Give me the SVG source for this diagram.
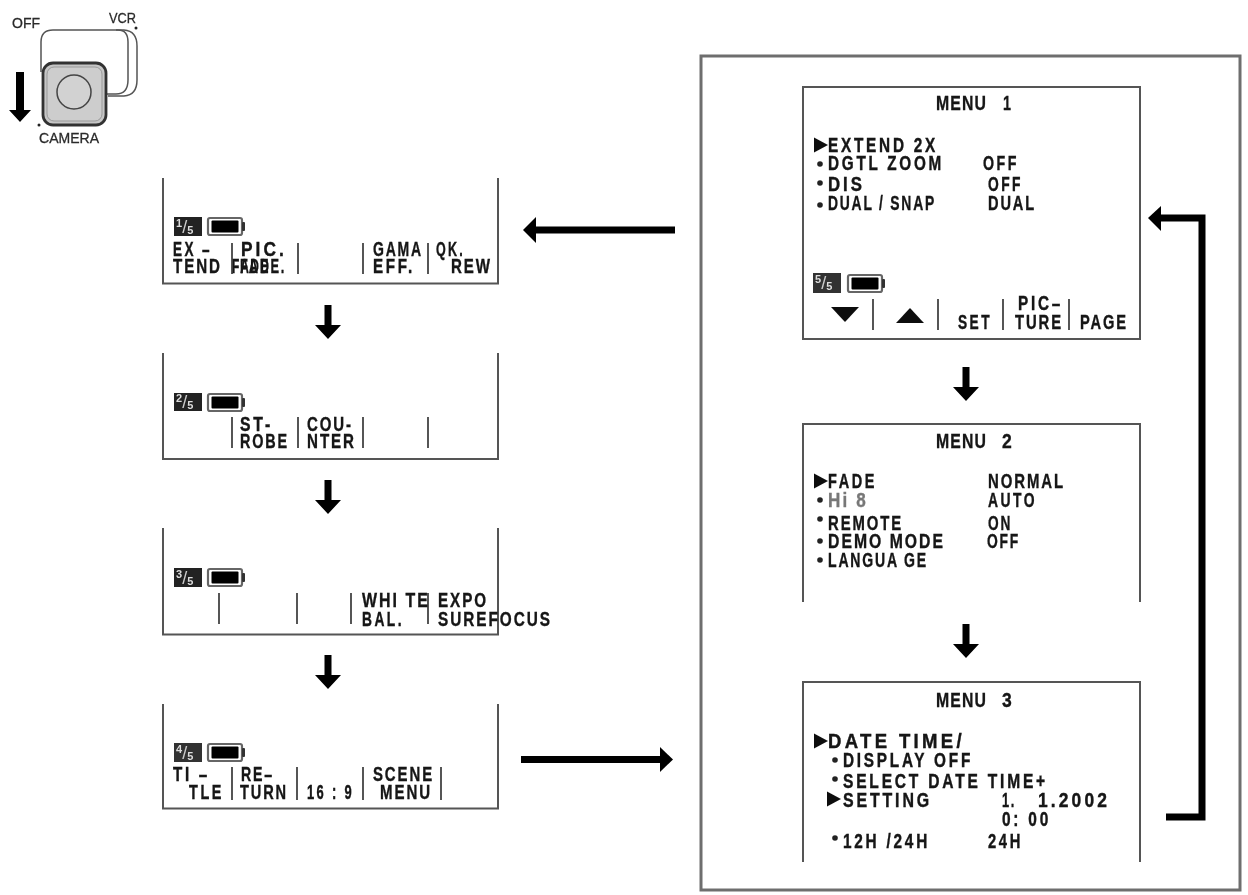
<svg xmlns="http://www.w3.org/2000/svg" width="1248" height="895" viewBox="0 0 1248 895">
<style>
text{font-family:"Liberation Sans",Arial,sans-serif;font-weight:bold;fill:#141414}
.t{font-size:19.500px;letter-spacing:2.500px;stroke:#141414;stroke-width:.35px}
.w{font-size:19.500px;letter-spacing:3.500px;stroke:#141414;stroke-width:.4px}
.m{font-size:21px;letter-spacing:1.500px;stroke:#141414;stroke-width:.35px}
.s{font-size:15px;font-weight:normal;fill:#2a2a2a;stroke:#2a2a2a;stroke-width:.3px}
.b{font-size:11px;fill:#ddd}
.sl{font-size:18px;font-weight:normal}
.frame{fill:none;stroke:#555;stroke-width:2}
.div{stroke:#444;stroke-width:1.800;fill:none}
.flow{stroke:#000;stroke-width:7;fill:none}
.head{fill:#000}
.bul{fill:#222}
.badge{fill:#222}
</style>
<defs>
<filter id="soft" x="-5%" y="-5%" width="110%" height="110%"><feGaussianBlur stdDeviation="0.4"/></filter>
<g id="bat">
<rect x="1" y="1" width="34" height="17" rx="2" fill="#fff" stroke="#666" stroke-width="2.200"/>
<rect x="4.500" y="3.500" width="27" height="12" rx="1" fill="#000"/>
<rect x="35" y="5" width="3" height="9" rx="1" fill="#333"/>
</g>
<polygon id="down" points="-13,0 -3.500,0 -3.500,-20 3.500,-20 3.500,0 13,0 0,14" class="head"/>
<polygon id="tri" points="0,-0.500 14,7 0,14.500" fill="#111"/>
<circle id="dot" r="2.800" class="bul"/>
</defs>
<rect width="1248" height="895" fill="#fff"/>
<g filter="url(#soft)">
<g id="switch">
<path d="M41 72V42Q41 30 53 30H118Q128 30 128 42V80Q128 94 116 94H106" fill="none" stroke="#555" stroke-width="1.500"/>
<path d="M116 30H124Q137 31 137 46V80Q137 95 124 96H108" fill="none" stroke="#555" stroke-width="1.500"/>
<rect x="43" y="63" width="63" height="62" rx="10" fill="#c6c6c6" stroke="#333" stroke-width="2.800"/>
<rect x="47" y="67" width="55" height="54" rx="7" fill="#cdcdcd" stroke="#999" stroke-width="1"/>
<circle cx="74" cy="92" r="17" fill="#d2d2d2" stroke="#444" stroke-width="1.500"/>
<circle cx="136" cy="28" r="1.500" fill="#222"/>
<circle cx="39" cy="125" r="1.500" fill="#222"/>
<polygon points="16,72 24,72 24,110 31,110 20,122 9,110 16,110" fill="#000"/>
<text class="s" x="12" y="28" textLength="28" lengthAdjust="spacingAndGlyphs">OFF</text>
<text class="s" x="109" y="23" textLength="27" lengthAdjust="spacingAndGlyphs">VCR</text>
<text class="s" x="39" y="143" textLength="60" lengthAdjust="spacingAndGlyphs">CAMERA</text>
</g>
<g id="page1">
<path class="frame" d="M163 178V283.500H498V178"/>
<rect class="badge" x="174" y="217" width="28" height="19"/>
<text class="b" x="176" y="227">1<tspan class="sl" dy="6" style="fill:#ccc">/</tspan><tspan dy="1">5</tspan></text>
<use href="#bat" x="207" y="217"/>
<path class="div" d="M232 243V274M298 243V274M363 243V274M428 243V274"/>
<text class="w" x="173" y="256" textLength="39" lengthAdjust="spacingAndGlyphs">EX –</text>
<text class="t" x="173" y="273" textLength="49" lengthAdjust="spacingAndGlyphs">TEND</text>
<text class="w" x="241" y="256" textLength="46" lengthAdjust="spacingAndGlyphs">PIC.</text>
<text class="t" x="232" y="273" textLength="38" lengthAdjust="spacingAndGlyphs">FADE</text>
<text class="t" x="240" y="273" textLength="46" lengthAdjust="spacingAndGlyphs">FADE.</text>
<text class="t" x="373" y="256" textLength="50" lengthAdjust="spacingAndGlyphs">GAMA</text>
<text class="w" x="373" y="273" textLength="42" lengthAdjust="spacingAndGlyphs">EFF.</text>
<text class="w" x="436" y="256" textLength="29" lengthAdjust="spacingAndGlyphs">QK.</text>
<text class="t" x="451" y="273" textLength="41" lengthAdjust="spacingAndGlyphs">REW</text>
</g>
<g id="page2">
<path class="frame" d="M163 353V459H498V353"/>
<rect class="badge" x="174" y="393" width="28" height="18"/>
<text class="b" x="176" y="402">2<tspan class="sl" dy="6" style="fill:#ccc">/</tspan><tspan dy="1">5</tspan></text>
<use href="#bat" x="207" y="393"/>
<path class="div" d="M232 417V448M298 417V448M363 417V448M428 417V448"/>
<text class="w" x="240" y="431" textLength="33" lengthAdjust="spacingAndGlyphs">ST-</text>
<text class="t" x="240" y="448" textLength="49" lengthAdjust="spacingAndGlyphs">ROBE</text>
<text class="t" x="307" y="431" textLength="46" lengthAdjust="spacingAndGlyphs">COU-</text>
<text class="t" x="307" y="448" textLength="49" lengthAdjust="spacingAndGlyphs">NTER</text>
</g>
<g id="page3">
<path class="frame" d="M163 528V634.500H498V528"/>
<rect class="badge" x="174" y="568" width="28" height="19"/>
<text class="b" x="176" y="578">3<tspan class="sl" dy="6" style="fill:#ccc">/</tspan><tspan dy="1">5</tspan></text>
<use href="#bat" x="207" y="568"/>
<path class="div" d="M219 593V624M297 593V624M351 593V624M428 593V624"/>
<text class="t" x="362" y="607" textLength="68" lengthAdjust="spacingAndGlyphs">WHI TE</text>
<text class="w" x="362" y="626" textLength="42" lengthAdjust="spacingAndGlyphs">BAL.</text>
<text class="t" x="438" y="607" textLength="50" lengthAdjust="spacingAndGlyphs">EXPO</text>
<text class="t" x="438" y="626" textLength="114" lengthAdjust="spacingAndGlyphs">SUREFOCUS</text>
</g>
<g id="page4">
<path class="frame" d="M163 704V808.500H498V704"/>
<rect class="badge" x="174" y="743" width="28" height="19" style="fill:#333"/>
<text class="b" x="176" y="753">4<tspan class="sl" dy="6" style="fill:#ccc">/</tspan><tspan dy="1">5</tspan></text>
<use href="#bat" x="207" y="743"/>
<path class="div" d="M232 767V800M297 767V800M363 767V800M441 767V800"/>
<text class="w" x="173" y="781" textLength="37" lengthAdjust="spacingAndGlyphs">TI –</text>
<text class="w" x="189" y="799" textLength="35" lengthAdjust="spacingAndGlyphs">TLE</text>
<text class="t" x="241" y="781" textLength="33" lengthAdjust="spacingAndGlyphs">RE–</text>
<text class="t" x="240" y="799" textLength="48" lengthAdjust="spacingAndGlyphs">TURN</text>
<text class="w" x="307" y="799" textLength="47" lengthAdjust="spacingAndGlyphs">16 : 9</text>
<text class="t" x="373" y="781" textLength="61" lengthAdjust="spacingAndGlyphs">SCENE</text>
<text class="t" x="380" y="799" textLength="52" lengthAdjust="spacingAndGlyphs">MENU</text>
</g>
<g id="frame-box"><rect x="701" y="56" width="539" height="834" fill="none" stroke="#6e6e6e" stroke-width="3"/></g>
<g id="menu1">
<rect class="frame" x="803" y="87" width="337" height="252"/>
<text class="m" x="936" y="110" textLength="51" lengthAdjust="spacingAndGlyphs">MENU</text>
<text class="m" x="1003" y="110" textLength="9" lengthAdjust="spacingAndGlyphs">1</text>
<use href="#tri" x="814" y="138"/>
<text class="w" x="828" y="152" textLength="110" lengthAdjust="spacingAndGlyphs">EXTEND 2X</text>
<use href="#dot" x="820" y="164"/>
<text class="w" x="828" y="170" textLength="116" lengthAdjust="spacingAndGlyphs">DGTL ZOOM</text>
<text class="w" x="983" y="170" textLength="36" lengthAdjust="spacingAndGlyphs">OFF</text>
<use href="#dot" x="820" y="183"/>
<text class="w" x="828" y="191" textLength="37" lengthAdjust="spacingAndGlyphs">DIS</text>
<text class="w" x="988" y="191" textLength="35" lengthAdjust="spacingAndGlyphs">OFF</text>
<use href="#dot" x="820" y="205"/>
<text class="t" x="828" y="210" textLength="108" lengthAdjust="spacingAndGlyphs">DUAL / SNAP</text>
<text class="t" x="988" y="210" textLength="48" lengthAdjust="spacingAndGlyphs">DUAL</text>
<rect class="badge" x="813" y="273" width="28" height="20" style="fill:#333"/>
<text class="b" x="815" y="283">5<tspan class="sl" dy="6" style="fill:#ccc">/</tspan><tspan dy="1">5</tspan></text>
<use href="#bat" x="847" y="274"/>
<path class="div" d="M873 299V330M938 299V330M1003 299V330M1069 299V330"/>
<polygon points="831,307 859,307 845,322" fill="#111"/>
<polygon points="910,308 924,323 896,323" fill="#111"/>
<text class="w" x="958" y="329" textLength="34" lengthAdjust="spacingAndGlyphs">SET</text>
<text class="w" x="1018" y="310" textLength="45" lengthAdjust="spacingAndGlyphs">PIC–</text>
<text class="t" x="1015" y="329" textLength="48" lengthAdjust="spacingAndGlyphs">TURE</text>
<text class="t" x="1080" y="329" textLength="48" lengthAdjust="spacingAndGlyphs">PAGE</text>
</g>
<g id="menu2">
<path class="frame" d="M803 602V424H1140V602"/>
<text class="m" x="936" y="448" textLength="51" lengthAdjust="spacingAndGlyphs">MENU</text>
<text class="m" x="1002" y="448" textLength="11" lengthAdjust="spacingAndGlyphs">2</text>
<use href="#tri" x="814" y="474"/>
<text class="w" x="828" y="488" textLength="49" lengthAdjust="spacingAndGlyphs">FADE</text>
<text class="t" x="988" y="488" textLength="77" lengthAdjust="spacingAndGlyphs">NORMAL</text>
<use href="#dot" x="820" y="500"/>
<text class="t" x="828" y="507" textLength="40" lengthAdjust="spacingAndGlyphs" style="fill:#777;stroke:#777">Hi 8</text>
<text class="w" x="988" y="507" textLength="49" lengthAdjust="spacingAndGlyphs">AUTO</text>
<use href="#dot" x="820" y="519"/>
<text class="t" x="828" y="530" textLength="75" lengthAdjust="spacingAndGlyphs">REMOTE</text>
<text class="t" x="988" y="530" textLength="24" lengthAdjust="spacingAndGlyphs">ON</text>
<use href="#dot" x="820" y="541"/>
<text class="t" x="828" y="548" textLength="117" lengthAdjust="spacingAndGlyphs">DEMO MODE</text>
<text class="t" x="987" y="548" textLength="33" lengthAdjust="spacingAndGlyphs">OFF</text>
<use href="#dot" x="820" y="560"/>
<text class="t" x="828" y="567" textLength="100" lengthAdjust="spacingAndGlyphs">LANGUA GE</text>
</g>
<g id="menu3">
<path class="frame" d="M803 862V682H1140V862"/>
<text class="m" x="936" y="707" textLength="51" lengthAdjust="spacingAndGlyphs">MENU</text>
<text class="m" x="1002" y="707" textLength="11" lengthAdjust="spacingAndGlyphs">3</text>
<use href="#tri" x="814" y="734"/>
<text class="w" x="828" y="748" textLength="137" lengthAdjust="spacingAndGlyphs">DATE TIME/</text>
<use href="#dot" x="835" y="760"/>
<text class="w" x="843" y="767" textLength="130" lengthAdjust="spacingAndGlyphs">DISPLAY OFF</text>
<use href="#dot" x="835" y="779"/>
<text class="w" x="843" y="788" textLength="205" lengthAdjust="spacingAndGlyphs">SELECT DATE TIME+</text>
<use href="#tri" x="827" y="792"/>
<text class="w" x="843" y="807" textLength="89" lengthAdjust="spacingAndGlyphs">SETTING</text>
<text class="t" x="1002" y="807" textLength="14" lengthAdjust="spacingAndGlyphs">1.</text>
<text class="w" x="1038" y="807" textLength="72" lengthAdjust="spacingAndGlyphs">1.2002</text>
<text class="w" x="1002" y="826" textLength="49" lengthAdjust="spacingAndGlyphs">0: 00</text>
<use href="#dot" x="835" y="838"/>
<text class="w" x="843" y="848" textLength="87" lengthAdjust="spacingAndGlyphs">12H /24H</text>
<text class="w" x="988" y="848" textLength="35" lengthAdjust="spacingAndGlyphs">24H</text>
</g>
<g id="connectors">
<use href="#down" x="328" y="325"/>
<use href="#down" x="328" y="500"/>
<use href="#down" x="328" y="675"/>
<use href="#down" x="966" y="387"/>
<use href="#down" x="966" y="644"/>
<path class="flow" d="M675 230H534"/>
<polygon class="head" points="523,230 536,217 536,243"/>
<path class="flow" d="M521 759.500H662"/>
<polygon class="head" points="673,759.500 660,747 660,772"/>
<path class="flow" d="M1166 817H1202V218H1159"/>
<polygon class="head" points="1148,218 1161,206 1161,231"/>
</g>
</g>
</svg>
